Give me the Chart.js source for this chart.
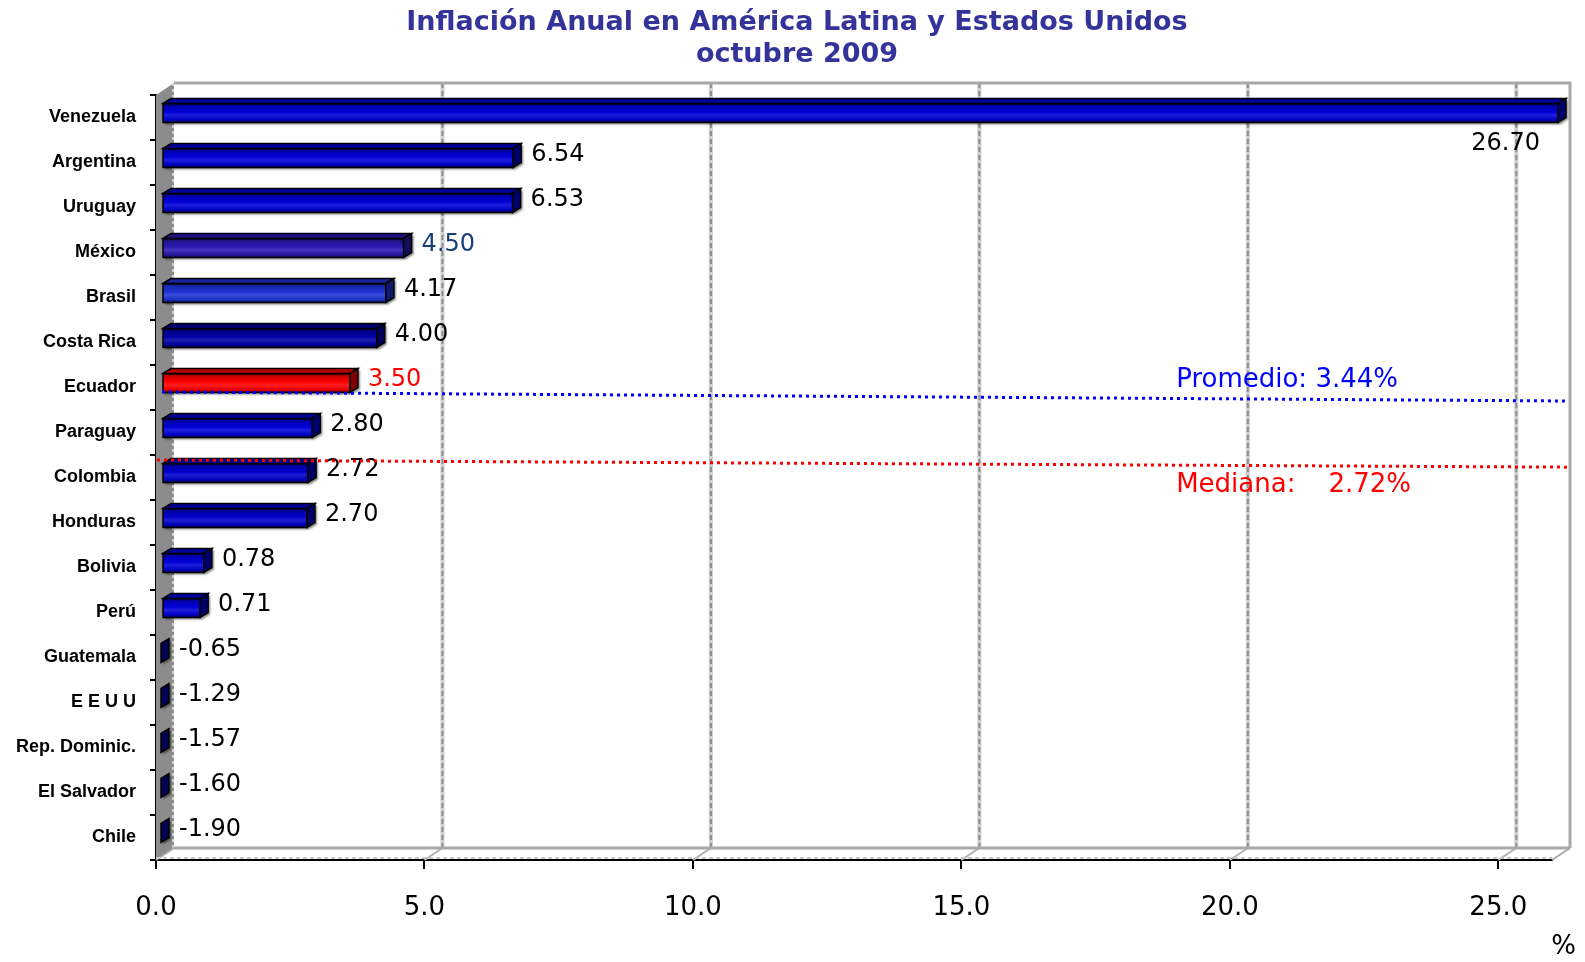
<!DOCTYPE html>
<html>
<head>
<meta charset="utf-8">
<script src="https://cdn.jsdelivr.net/npm/chart.js@4"></script>
<style>
  html,body{margin:0;padding:0;background:#fff}
  #wrap{width:1585px;height:962px}
</style>
</head>
<body>
<div id="wrap"><canvas id="grafico"></canvas></div>
<script>
// datos (inflación anual, octubre 2009)
const paises=['Venezuela','Argentina','Uruguay','México','Brasil','Costa Rica','Ecuador','Paraguay','Colombia','Honduras','Bolivia','Perú','Guatemala','E E U U','Rep. Dominic.','El Salvador','Chile'];
const inflacion=[26.70,6.54,6.53,4.50,4.17,4.00,3.50,2.80,2.72,2.70,0.78,0.71,-0.65,-1.29,-1.57,-1.60,-1.90];
const ticksX=[0,5,10,15,20,25];
const promedio=3.44;
const mediana=2.72;
const titulo=['Inflación Anual en América Latina y Estados Unidos','octubre 2009'];

// estilos
const colorBarra=['#0000d8','#0000d8','#0000d8','#2b1ab2','#1f33d6','#0000a8','#ff0000','#0000d8','#0000cc','#0000cc','#0000d8','#0000d8','#0000a8','#0000a8','#0000a8','#0000a8','#0000a8'];
const colorEtiqueta=['#000','#000','#000','#17407a','#000','#000','#ff0000','#000','#000','#000','#000','#000','#000','#000','#000','#000','#000'];
const FUENTE="'Liberation Sans', Arial, sans-serif";
const FUENTE_NUM="'DejaVu Sans', Verdana, sans-serif";
const PARED={dx:18,dy:12};
const BARRA={dx:8,dy:5,sx:6,sy:-4.5};

function tono(hex,f){
  const n=parseInt(hex.slice(1),16);
  const r=n>>16,g=(n>>8)&255,b=n&255;
  const m=c=>Math.round(f<1?c*f:c+(255-c)*(f-1));
  return `rgb(${m(r)},${m(g)},${m(b)})`;
}

function linea(ctx,x1,y1,x2,y2){ctx.beginPath();ctx.moveTo(x1,y1);ctx.lineTo(x2,y2);ctx.stroke();}

// paredes y piso en 3D
const fondo3d={
  id:'fondo3d',
  beforeDatasetsDraw(chart){
    const {ctx,chartArea:a,scales:{x}}=chart;
    const dx=PARED.dx,dy=PARED.dy;
    ctx.save();
    // pared lateral izquierda
    ctx.fillStyle='#8c8c8c';
    ctx.beginPath();
    ctx.moveTo(a.left,a.top);ctx.lineTo(a.left+dx,a.top-dy);
    ctx.lineTo(a.left+dx,a.bottom-dy);ctx.lineTo(a.left,a.bottom);
    ctx.closePath();ctx.fill();
    ctx.strokeStyle='#d0d0d0';ctx.lineWidth=2;ctx.setLineDash([3,3]);
    linea(ctx,a.left+dx-1,a.top-dy,a.left+dx-1,a.bottom-dy);
    // rejilla en la pared del fondo
    ticksX.forEach(v=>{
      if(v===0) return;
      const px=x.getPixelForValue(v);
      ctx.setLineDash([]);ctx.strokeStyle='#cfcfcf';ctx.lineWidth=4;
      linea(ctx,px+dx,a.top-dy,px+dx,a.bottom-dy);
      ctx.setLineDash([5,3]);ctx.strokeStyle='#8e8e8e';ctx.lineWidth=2;
      linea(ctx,px+dx,a.top-dy,px+dx,a.bottom-dy);
      ctx.setLineDash([]);ctx.strokeStyle='#b0b0b0';ctx.lineWidth=2;
      linea(ctx,px,a.bottom,px+dx,a.bottom-dy);
    });
    // bordes de la pared del fondo y del piso
    ctx.setLineDash([]);ctx.strokeStyle='#a8a8a8';ctx.lineWidth=3;
    ctx.beginPath();
    ctx.moveTo(a.left+dx,a.top-dy);ctx.lineTo(a.right+dx,a.top-dy);ctx.lineTo(a.right+dx,a.bottom-dy);
    ctx.stroke();
    linea(ctx,a.left+dx,a.bottom-dy,a.right+dx,a.bottom-dy);
    ctx.lineWidth=2;
    linea(ctx,a.right,a.bottom,a.right+dx,a.bottom-dy);
    linea(ctx,a.left,a.bottom,a.left+dx,a.bottom-dy);
    ctx.setLineDash([4,3]);ctx.strokeStyle='#c8c8c8';
    linea(ctx,a.left,a.bottom-2,a.right,a.bottom-2);
    ctx.restore();
  }
};

// barras 3D, etiquetas, promedio, mediana y título
const barras3d={
  id:'barras3d',
  afterDatasetsDraw(chart){
    const {ctx,chartArea:a,scales:{x,y}}=chart;
    const meta=chart.getDatasetMeta(0);
    ctx.save();
    meta.data.forEach((el,i)=>{
      const c=colorBarra[i];
      const base=el.base;
      const fin=Math.min(Math.max(el.x,base),a.right);
      const x0=base+BARRA.sx,x1=fin+BARRA.sx;
      const yt=el.y-el.height/2+BARRA.sy,yb=yt+el.height;
      const dx=BARRA.dx,dy=BARRA.dy;
      // sombra de la silueta
      ctx.save();
      ctx.shadowColor='rgba(0,0,0,0.45)';ctx.shadowOffsetX=2;ctx.shadowOffsetY=2;ctx.shadowBlur=2;
      ctx.fillStyle=c;
      ctx.beginPath();
      ctx.moveTo(x0,yb);ctx.lineTo(x0,yt);ctx.lineTo(x0+dx,yt-dy);ctx.lineTo(x1+dx,yt-dy);
      ctx.lineTo(x1+dx,yb-dy);ctx.lineTo(x1,yb);ctx.closePath();ctx.fill();
      ctx.restore();
      ctx.strokeStyle='#000';ctx.lineWidth=1.5;
      // cara frontal
      if(x1-x0>0.5){
        const g=ctx.createLinearGradient(0,yt,0,yb);
        g.addColorStop(0,tono(c,0.35));g.addColorStop(0.14,tono(c,0.8));
        g.addColorStop(0.45,c);g.addColorStop(0.6,tono(c,1.12));
        g.addColorStop(0.85,tono(c,0.9));g.addColorStop(1,tono(c,0.45));
        ctx.fillStyle=g;
        ctx.fillRect(x0,yt,x1-x0,yb-yt);
        ctx.strokeRect(x0,yt,x1-x0,yb-yt);
        // cara superior
        ctx.fillStyle=tono(c,0.72);
        ctx.beginPath();
        ctx.moveTo(x0,yt);ctx.lineTo(x0+dx,yt-dy);ctx.lineTo(x1+dx,yt-dy);ctx.lineTo(x1,yt);
        ctx.closePath();ctx.fill();ctx.stroke();
      }
      // cara lateral
      ctx.fillStyle=tono(c,0.5);
      ctx.beginPath();
      ctx.moveTo(x1,yt);ctx.lineTo(x1+dx,yt-dy);ctx.lineTo(x1+dx,yb-dy);ctx.lineTo(x1,yb);
      ctx.closePath();ctx.fill();ctx.stroke();

      // etiqueta de valor
      const txt=inflacion[i].toFixed(2);
      ctx.font='24px '+FUENTE_NUM;
      ctx.fillStyle=colorEtiqueta[i];
      ctx.textBaseline='middle';
      const w=ctx.measureText(txt).width;
      if(x1+20+w>chart.width){
        ctx.textAlign='right';
        ctx.fillText(txt,x1-18,el.y+26);
      }else{
        ctx.textAlign='left';
        ctx.fillText(txt,x1+18,el.y-8);
      }
    });

    // líneas de promedio y mediana
    ctx.lineWidth=3;ctx.setLineDash([3,4]);
    ctx.strokeStyle='#0000ff';
    linea(ctx,x.getPixelForValue(0)+6,y.getPixelForValue(6.1),a.right+16,y.getPixelForValue(6.3));
    ctx.strokeStyle='#ff0000';
    linea(ctx,x.getPixelForValue(0)+1,y.getPixelForValue(7.61),a.right+16,y.getPixelForValue(7.77));
    ctx.setLineDash([]);
    ctx.font='26px '+FUENTE_NUM;ctx.textAlign='left';ctx.textBaseline='middle';
    ctx.fillStyle='#0000ff';
    ctx.fillText('Promedio: '+promedio.toFixed(2)+'%',x.getPixelForValue(19),y.getPixelForValue(5.83));
    ctx.fillStyle='#ff0000';
    ctx.fillText('Mediana:    '+mediana.toFixed(2)+'%',x.getPixelForValue(19),y.getPixelForValue(8.17));
    // unidad del eje
    ctx.fillStyle='#000';ctx.textAlign='right';ctx.font='26px '+FUENTE_NUM;
    ctx.fillText('%',a.right+24,947);
    // título
    ctx.fillStyle='#333399';ctx.textAlign='center';
    ctx.font="bold 27px 'DejaVu Sans', sans-serif";
    ctx.fillText(titulo[0],797,23);
    ctx.fillText(titulo[1],797,55);
    ctx.restore();
  }
};

new Chart(document.getElementById('grafico'),{
  type:'bar',
  data:{
    labels:paises,
    datasets:[{data:inflacion,backgroundColor:'rgba(0,0,0,0)',borderWidth:0,barThickness:19}]
  },
  options:{
    indexAxis:'y',
    responsive:true,
    maintainAspectRatio:false,
    animation:false,
    layout:{padding:{left:0,right:33,top:95,bottom:0}},
    plugins:{
      legend:{display:false},
      tooltip:{enabled:false},
      title:{display:false}
    },
    scales:{
      x:{
        min:0,max:26,
        afterFit(s){s.height=102;},
        afterBuildTicks(s){s.ticks=ticksX.map(v=>({value:v}));},
        grid:{drawOnChartArea:false,tickLength:9,color:'#000',lineWidth:2},
        border:{display:true,color:'#000',width:2},
        ticks:{
          padding:24,color:'#000',
          font:{family:FUENTE_NUM,size:26},
          callback:v=>Number(v).toFixed(1),
          maxRotation:0
        }
      },
      y:{
        afterFit(s){s.width=156;},
        grid:{drawOnChartArea:false,offset:true,tickLength:6,color:'#000',lineWidth:2},
        border:{display:true,color:'#000',width:2},
        ticks:{padding:14,color:'#000',font:{family:FUENTE,size:18,weight:'bold'}}
      }
    }
  },
  plugins:[fondo3d,barras3d]
});
</script>
</body>
</html>
